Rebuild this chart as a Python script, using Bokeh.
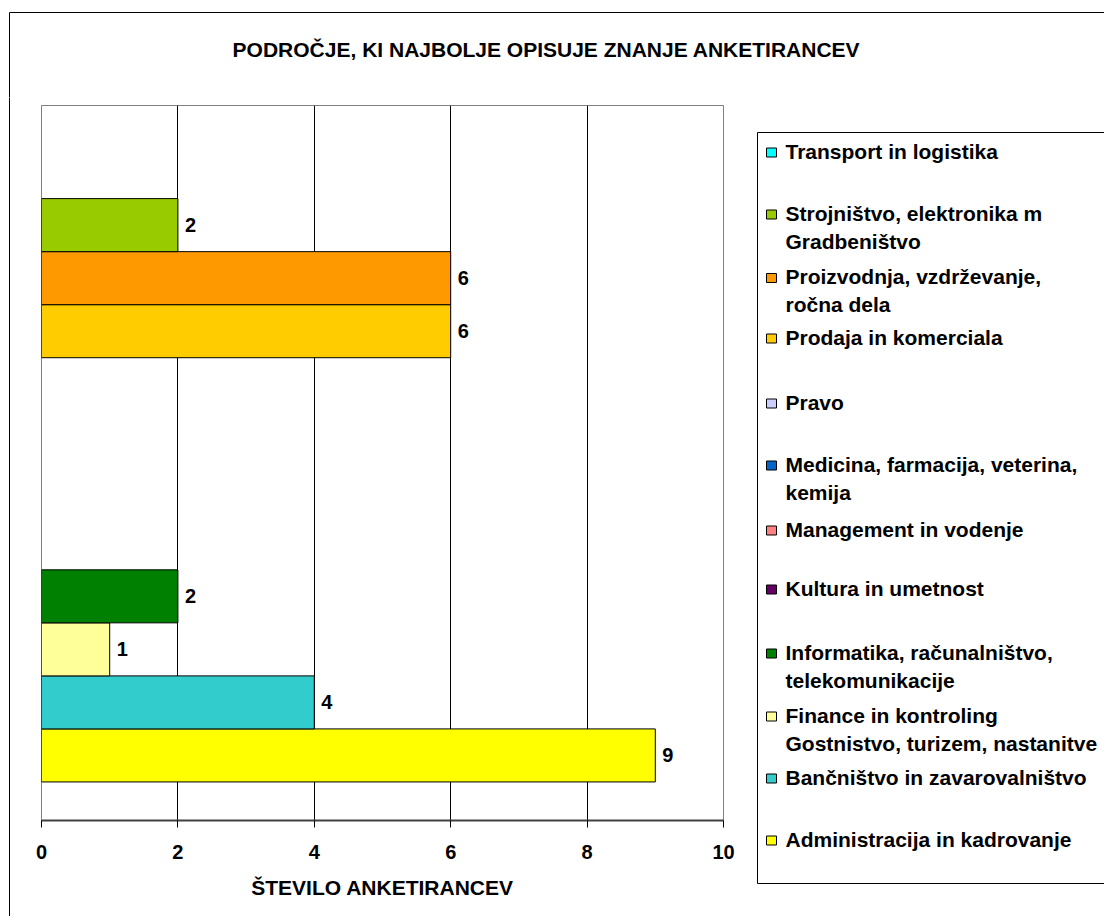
from bokeh.plotting import figure
from bokeh.models import Range1d, ColumnDataSource, FixedTicker
from bokeh.layouts import column, row
from bokeh.embed import file_html
from bokeh.resources import INLINE
from bokeh.core.properties import value

# ---------------- data (bottom -> top) ----------------
categories = [
    "Administracija in kadrovanje",
    "Bančništvo in zavarovalništvo",
    "Finance in kontroling\nGostnistvo, turizem, nastanitve",
    "Informatika, računalništvo,\ntelekomunikacije",
    "Kultura in umetnost",
    "Management in vodenje",
    "Medicina, farmacija, veterina,\nkemija",
    "Pravo",
    "Prodaja in komerciala",
    "Proizvodnja, vzdrževanje,\nročna dela",
    "Strojništvo, elektronika m\nGradbeništvo",
    "Transport in logistika",
]
counts = [9, 4, 1, 2, 0, 0, 0, 0, 6, 6, 2, 0]
colors = ["#FFFF00", "#33CCCC", "#FFFF99", "#008000", "#660066", "#FF8080",
          "#0066CC", "#CCCCFF", "#FFCC00", "#FF9900", "#99CC00", "#00FFFF"]
x_ticks = [0, 2, 4, 6, 8, 10]
grid_ticks = [2, 4, 6, 8]
title_text = "PODROČJE, KI NAJBOLJE OPISUJE ZNANJE ANKETIRANCEV"
x_title = "ŠTEVILO ANKETIRANCEV"

# ---------------- layout constants (page px) ----------------
FONT = "Liberation Sans"
TOTAL_W = 1104
TITLE_H = 97
ROW_H = 819
L_W = 30          # left strip (outer border)
M_W = 720         # main chart figure
G_W = TOTAL_W - L_W - M_W   # legend figure
F_LEFT, F_RIGHT, F_TOP, F_BOTTOM = 41, 723, 105, 820
BORDER_X, BORDER_Y = 9, 12
Y0, Y1 = -1.227, 12.256
MID = 1.0   # "middle" baseline sits ~1px below the cap centre


def blank(w, h):
    f = figure(width=w, height=h, x_range=Range1d(0, w), y_range=Range1d(h, 0),
               output_backend="svg", toolbar_location=None,
               x_axis_location=None, y_axis_location=None,
               min_border=0, min_border_left=0, min_border_right=0,
               min_border_top=0, min_border_bottom=0)
    f.xgrid.visible = False
    f.ygrid.visible = False
    f.outline_line_color = None
    f.background_fill_color = "white"
    f.border_fill_color = "white"
    if "frame_align" in f.properties():
        f.frame_align = False
    return f

# ---------------- title strip ----------------
t = blank(TOTAL_W, TITLE_H)
t.line(x=[BORDER_X, TOTAL_W + 5], y=[BORDER_Y, BORDER_Y], line_color="black", line_width=1)
t.line(x=[BORDER_X, BORDER_X], y=[BORDER_Y, TITLE_H + 2], line_color="black", line_width=1)
t.text(x=[546], y=[47.5 + MID], text=[title_text], text_font=value(FONT), text_font_style="bold",
       text_font_size="21px", text_color="black", text_align="center",
       text_baseline="middle")

# ---------------- left strip ----------------
l = blank(L_W, ROW_H)
l.line(x=[BORDER_X, BORDER_X], y=[-2, ROW_H + 2], line_color="black", line_width=1)

# ---------------- main chart ----------------
x0_page = L_W
p = figure(width=M_W, height=ROW_H, x_range=Range1d(0, 10), y_range=Range1d(Y0, Y1),
           output_backend="svg", toolbar_location=None, y_axis_location=None,
           min_border_left=F_LEFT - x0_page, min_border_right=x0_page + M_W - F_RIGHT,
           min_border_top=F_TOP - TITLE_H, min_border_bottom=TITLE_H + ROW_H - F_BOTTOM)
p.background_fill_color = "white"
p.border_fill_color = "white"
p.outline_line_color = "#808080"
p.outline_line_width = 1
p.xgrid.ticker = FixedTicker(ticks=grid_ticks)
p.xgrid.grid_line_color = "black"
p.xgrid.grid_line_width = 1
p.ygrid.visible = False

ax = p.xaxis[0]
ax.ticker = FixedTicker(ticks=x_ticks)
ax.axis_line_color = "#404040"
ax.axis_line_width = 2
ax.major_tick_line_color = "black"
ax.major_tick_out = 7
ax.major_tick_in = 0
ax.minor_tick_out = 0
ax.minor_tick_in = 0
ax.major_label_text_font = FONT
ax.major_label_text_font_style = "bold"
ax.major_label_text_font_size = "20px"
ax.major_label_text_color = "black"
ax.major_label_standoff = 17
ax.axis_label = x_title
ax.axis_label_text_font = FONT
ax.axis_label_text_font_style = "bold"
ax.axis_label_text_font_size = "21px"
ax.axis_label_text_color = "black"
ax.axis_label_standoff = 14

idx = list(range(len(categories)))
bar_src = ColumnDataSource(dict(
    y=[i for i, v in zip(idx, counts) if v > 0],
    v=[v for v in counts if v > 0],
    c=[c for c, v in zip(colors, counts) if v > 0],
    lbl=[str(v) for v in counts if v > 0],
))
p.hbar(y="y", left=0, right="v", height=1.0, fill_color="c", line_color="black",
       line_width=1, source=bar_src)
p.text(x="v", y="y", text="lbl", x_offset=7, y_offset=0, source=bar_src,
       text_font=value(FONT), text_font_style="bold", text_font_size="20px",
       text_color="black", text_align="left", text_baseline="middle")

# ---------------- legend ----------------
g = blank(G_W, ROW_H)
gx0 = L_W + M_W       # page x of legend figure
gy0 = TITLE_H         # page y of legend figure
g.quad(left=[757 - gx0], right=[G_W + 10], top=[132 - gy0], bottom=[883 - gy0],
       fill_color=None, line_color="black", line_width=1)

legend_rows = [149.5, 211.5, 275, 335.5, 400.5, 462.5, 527.5, 586.5, 650.5, 713.5, 775.5, 837.5]
LINE = 28
names_top = categories[::-1]
cols_top = colors[::-1]
sq_l, sq_r, sq_t, sq_b = [], [], [], []
tx, ty, tt = [], [], []
for k, name in enumerate(names_top):
    cy = legend_rows[k] - gy0
    sq_l.append(766 - gx0)
    sq_r.append(776 - gx0)
    sq_t.append(cy + 2.5 - 4.5)
    sq_b.append(cy + 2.5 + 4.5)
    for j, line in enumerate(name.split("\n")):
        tx.append(785 - gx0)
        ty.append(cy + j * LINE + MID)
        tt.append(line)
g.quad(left=sq_l, right=sq_r, top=sq_t, bottom=sq_b, fill_color=cols_top,
       line_color="black", line_width=1)
g.text(x=tx, y=ty, text=tt, text_font=value(FONT), text_font_style="bold",
       text_font_size="21px", text_color="black", text_align="left",
       text_baseline="middle")

layout = column(t, row(column(l), p, column(g), spacing=0), spacing=0)
open("out.html", "w").write(file_html(layout, INLINE))
